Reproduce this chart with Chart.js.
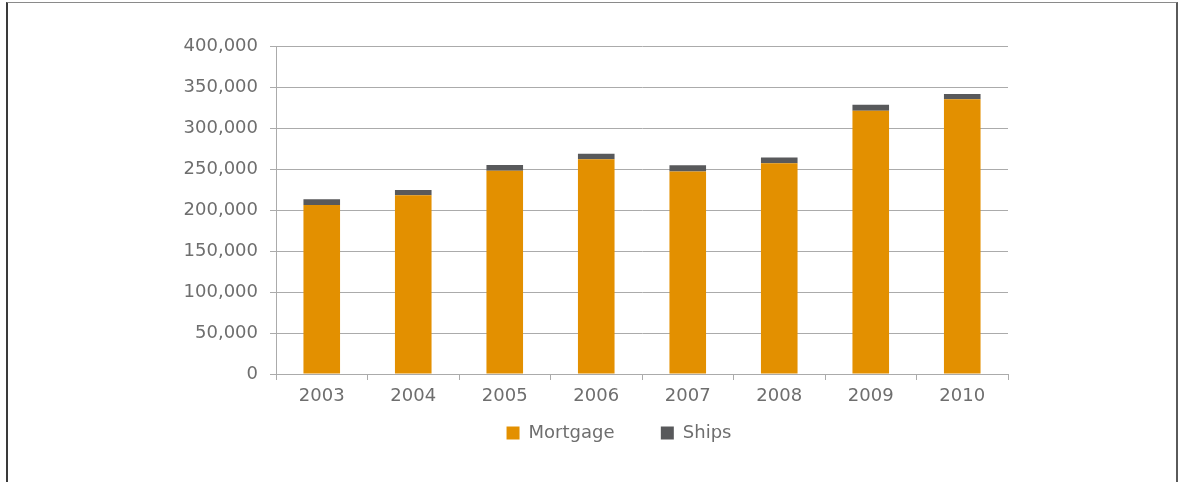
<!DOCTYPE html>
<html lang="en">
<head>
    <meta charset="UTF-8">
    <title>Mortgage and Ships</title>
    <script src="https://cdn.jsdelivr.net/npm/chart.js"></script>
    <style>
        html, body { margin: 0; padding: 0; background: #fff; }
        #wrap { position: relative; width: 1179px; height: 482px; overflow: hidden; }
        /* frame around the chart */
        .frame {
            position: absolute; left: 6px; top: 2px; width: 1168px; height: 490px;
            border-left: 2px solid #3a3a3a; border-top: 1px solid #8a8a8a; border-right: 2px solid #5a5a5a;
        }
        canvas { position: absolute; left: 0; top: 0; }
    </style>
</head>
<body>
    <div id="wrap">
        <div class="frame"></div>
        <canvas id="chart" width="1179" height="482"></canvas>
    </div>
    <script>
        // Data
        const years = ['2003', '2004', '2005', '2006', '2007', '2008', '2009', '2010'];
        const mortgage = [206000, 218000, 248000, 262000, 247000, 257000, 321000, 335000];
        const ships = [7000, 6500, 7000, 6500, 7500, 7000, 7500, 6500];
        const yTicks = { max: 400000, step: 50000 };

        const textColor = '#6e6e6e';
        const gridColor = '#ababab';
        Chart.defaults.font.family = '"DejaVu Sans", Verdana, sans-serif';
        Chart.defaults.font.size = 18;
        Chart.defaults.color = textColor;

        // legend sits a bit left of the plot centre in the original
        const legendShift = {
            id: 'legendShift',
            afterLayout(chart) {
                chart.legend.left -= 23;
                chart.legend.right -= 23;
            }
        };

        new Chart(document.getElementById('chart').getContext('2d'), {
            type: 'bar',
            data: {
                labels: years,
                datasets: [
                    { label: 'Mortgage', data: mortgage, backgroundColor: '#e39000', barPercentage: 0.4, categoryPercentage: 1 },
                    { label: 'Ships', data: ships, backgroundColor: '#58595b', barPercentage: 0.4, categoryPercentage: 1 }
                ]
            },
            options: {
                responsive: false,
                animation: false,
                locale: 'en-US',
                layout: { padding: { left: 0, right: 171, top: 46, bottom: 30 } },
                scales: {
                    x: {
                        stacked: true,
                        grid: { drawOnChartArea: false, color: gridColor, tickLength: 6 },
                        border: { color: gridColor },
                        ticks: { padding: 6, color: textColor },
                        afterFit: (s) => { s.height = 38; }
                    },
                    y: {
                        stacked: true,
                        min: 0,
                        max: yTicks.max,
                        grid: { color: gridColor, tickLength: 6 },
                        border: { color: gridColor },
                        ticks: { stepSize: yTicks.step, padding: 12, color: textColor },
                        afterFit: (s) => { s.width = 276; }
                    }
                },
                plugins: {
                    tooltip: { enabled: false },
                    legend: {
                        position: 'bottom',
                        fullSize: false,
                        labels: {
                            boxWidth: 13, boxHeight: 13, padding: 12, color: textColor,
                            generateLabels: (chart) => {
                                const items = Chart.defaults.plugins.legend.labels.generateLabels(chart);
                                // widen the gap after the first entry
                                items[0].text = items[0].text + '      ';
                                return items;
                            }
                        }
                    }
                }
            },
            plugins: [legendShift]
        });
    </script>
</body>
</html>
